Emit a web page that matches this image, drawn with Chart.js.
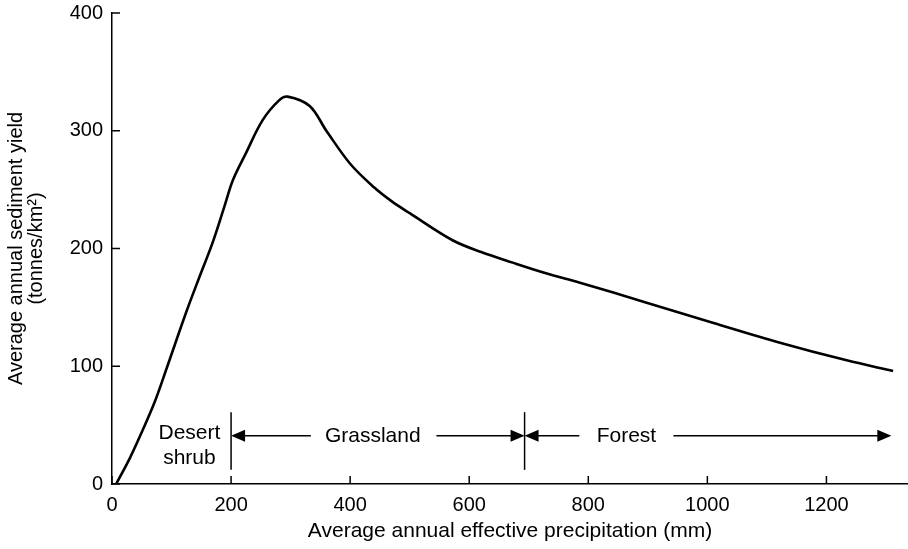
<!DOCTYPE html>
<html>
<head>
<meta charset="utf-8">
<script src="https://cdn.jsdelivr.net/npm/chart.js@4.4.1/dist/chart.umd.min.js"></script>
<style>
  html, body { margin: 0; padding: 0; background: #fff; }
  #wrap { width: 908px; height: 549px; }
</style>
</head>
<body>
<div id="wrap"><canvas id="yieldChart"></canvas></div>
<script>
// curve: precipitation (mm) vs sediment yield (t/km2)
const precip = [7, 30, 50, 72, 93, 124, 147, 169, 189, 203, 225, 253, 281, 295, 332, 360, 400, 440, 470, 500, 572, 620, 673, 729, 786, 898, 1009, 1122, 1234, 1312];
const sedYield = [0, 22, 44, 70, 100, 145, 176, 205, 236, 258, 281, 309, 326, 329, 321, 300, 272, 252, 240, 230, 207, 197, 188, 179, 171, 154, 137, 120, 105, 96];

const xTicks = [0, 200, 400, 600, 800, 1000, 1200];
const yTicks = [0, 100, 200, 300, 400];

// vegetation zones
const zoneBorders = [200, 693];
const zoneBorderSpan = [12, 61];
const arrowLevel = 41;
const arrowFrom = [334, 545, 785, 943];
const arrowTo = [200, 693, 693, 1309];
const zoneText = ['Grassland', 'Forest', 'Desert', 'shrub'];
const zoneTextX = [438, 864, 130, 130];
const zoneTextY = [41, 41, 43, 22];

const FONT = 'Liberation Sans, Arial, Helvetica, sans-serif';

const zonePlugin = {
  id: 'zones',
  afterDraw(chart) {
    const ctx = chart.ctx;
    const xs = chart.scales.x, ys = chart.scales.y;
    ctx.save();
    ctx.strokeStyle = '#000';
    ctx.fillStyle = '#000';

    // inward tick marks
    ctx.lineWidth = 1.5;
    const bottom = ys.getPixelForValue(0), left = xs.getPixelForValue(xs.min);
    xTicks.forEach(v => {
      const px = xs.getPixelForValue(v);
      ctx.beginPath(); ctx.moveTo(px, bottom); ctx.lineTo(px, bottom - 8); ctx.stroke();
    });
    yTicks.forEach(v => {
      const py = ys.getPixelForValue(v);
      ctx.beginPath(); ctx.moveTo(left, py); ctx.lineTo(left + 8, py); ctx.stroke();
    });

    // boundary lines
    zoneBorders.forEach(v => {
      const px = xs.getPixelForValue(v);
      ctx.beginPath();
      ctx.moveTo(px, ys.getPixelForValue(zoneBorderSpan[0]));
      ctx.lineTo(px, ys.getPixelForValue(zoneBorderSpan[1]));
      ctx.stroke();
    });

    // arrows
    const ay = ys.getPixelForValue(arrowLevel);
    arrowFrom.forEach((f, i) => {
      const x0 = xs.getPixelForValue(f), x1 = xs.getPixelForValue(arrowTo[i]);
      const dir = x1 > x0 ? 1 : -1;
      ctx.beginPath(); ctx.moveTo(x0, ay); ctx.lineTo(x1 - dir * 10, ay); ctx.stroke();
      ctx.beginPath();
      ctx.moveTo(x1, ay);
      ctx.lineTo(x1 - dir * 14, ay - 6);
      ctx.lineTo(x1 - dir * 14, ay + 6);
      ctx.closePath(); ctx.fill();
    });

    // labels
    ctx.font = '21px ' + FONT;
    ctx.textAlign = 'center';
    ctx.textBaseline = 'middle';
    zoneText.forEach((t, i) => {
      ctx.fillText(t, xs.getPixelForValue(zoneTextX[i]), ys.getPixelForValue(zoneTextY[i]));
    });
    ctx.restore();
  }
};

new Chart(document.getElementById('yieldChart').getContext('2d'), {
  type: 'line',
  data: {
    datasets: [{
      data: precip.map((p, i) => ({ x: p, y: sedYield[i] })),
      borderColor: '#000',
      borderWidth: 2.6,
      pointRadius: 0,
      fill: false,
      tension: 0.35
    }]
  },
  options: {
    responsive: true,
    maintainAspectRatio: false,
    animation: false,
    layout: { padding: { top: 13, right: 0, left: 0, bottom: 0 } },
    plugins: { legend: { display: false }, tooltip: { enabled: false } },
    scales: {
      x: {
        type: 'linear',
        min: 0,
        max: 1337,
        afterFit: s => { s.height = 65; s.paddingLeft = 0; s.paddingRight = 0; },
        grid: { display: true, drawOnChartArea: false, drawTicks: false },
        border: { display: true, color: '#000', width: 1.5 },
        ticks: {
          stepSize: 200, includeBounds: false, padding: 9, color: '#000',
          font: { family: FONT, size: 20 }, maxRotation: 0,
          callback: v => String(v)
        },
        title: {
          display: true, text: 'Average annual effective precipitation (mm)', color: '#000',
          font: { family: FONT, size: 21 }, padding: { top: 0, bottom: 5 }
        }
      },
      y: {
        min: 0,
        max: 400,
        afterFit: s => { s.width = 112; s.paddingTop = 0; s.paddingBottom = 0; },
        grid: { display: true, drawOnChartArea: false, drawTicks: false },
        border: { display: true, color: '#000', width: 1.5 },
        ticks: {
          stepSize: 100, padding: 9, color: '#000',
          font: { family: FONT, size: 20 }
        },
        title: {
          display: true, text: ['Average annual sediment yield', '(tonnes/km²)'], color: '#000',
          font: { family: FONT, size: 20, lineHeight: 1.0 }, padding: { top: 6, bottom: 6 }
        }
      }
    }
  },
  plugins: [zonePlugin]
});
</script>
</body>
</html>
